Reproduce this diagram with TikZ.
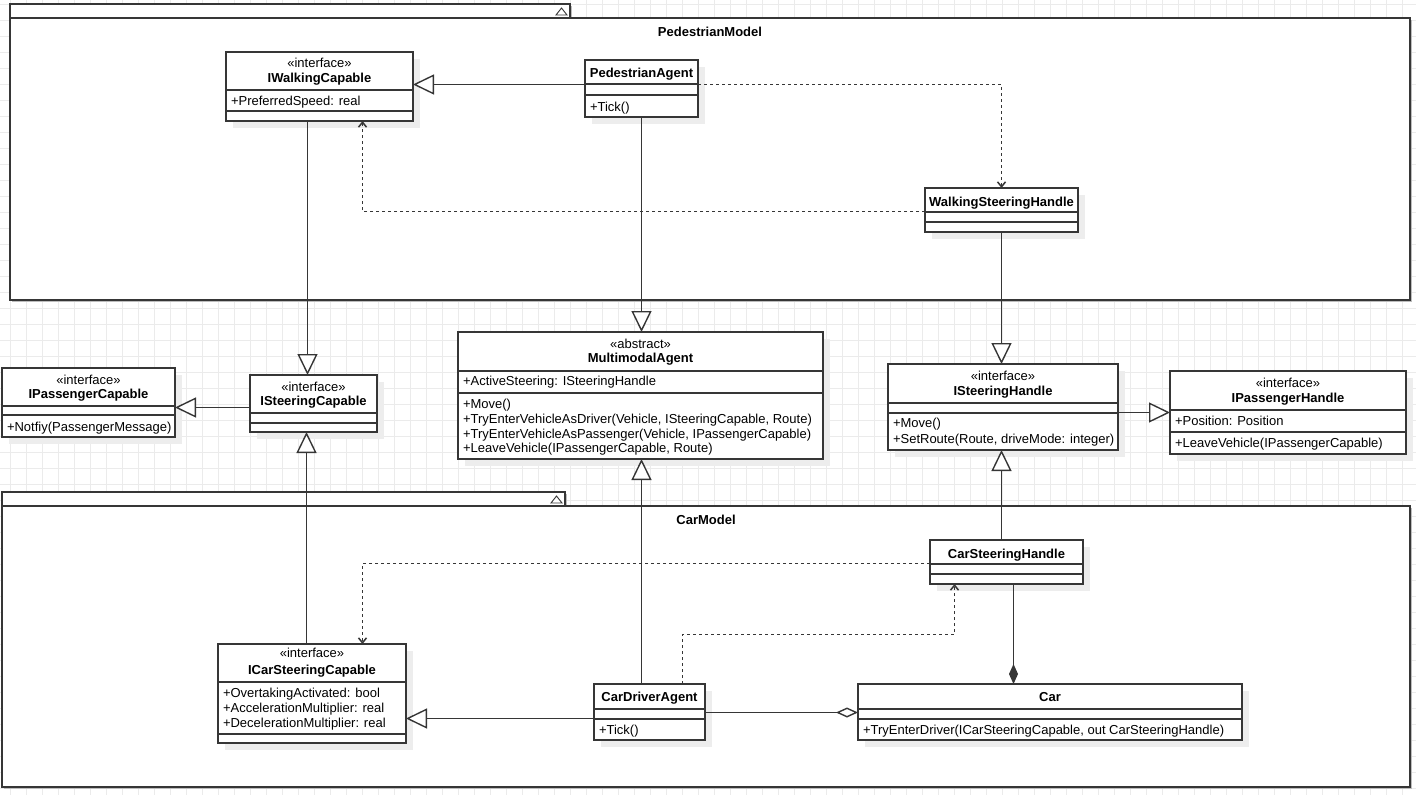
\documentclass[tikz,border=0pt]{standalone}
\usepackage{fontspec}
\setmainfont{Liberation Sans}
\usetikzlibrary{arrows.meta,shadows}
\definecolor{ln}{HTML}{363636}
\definecolor{gridc}{HTML}{EBEBEB}
\definecolor{shad}{HTML}{EDEDED}
\definecolor{fshad}{HTML}{BDBDBD}
\tikzset{
  txt/.style={font=\fontsize{13}{15}\selectfont, inner sep=0pt, outer sep=0pt, text=black},
  lefttxt/.style={txt, anchor=base west},
  midtxt/.style={txt, anchor=base},
  nametxt/.style={txt, anchor=base, font=\fontsize{13}{15}\selectfont\bfseries},
  classbox/.style={draw=ln, line width=1.3pt, fill=white, anchor=north west, inner sep=0pt, outer sep=0pt,
    drop shadow={shadow xshift=7pt, shadow yshift=-7pt, fill=shad, opacity=1}},
  framebox/.style={draw=ln, line width=1.5pt, fill=white, anchor=north west, inner sep=0pt, outer sep=0pt,
    drop shadow={shadow xshift=2pt, shadow yshift=-2pt, fill=fshad, opacity=1}},
  divline/.style={draw=ln, line width=1.3pt},
  gen/.style={draw=ln, line width=1.4pt, -{Triangle[length=21pt,width=20pt,fill=white]}},
  dep/.style={draw=ln, line width=1.5pt, dash pattern=on 3pt off 3pt, -{Straight Barb[length=5pt,width=8pt]}},
  agg/.style={draw=ln, line width=1.4pt, -{Diamond[length=22pt,width=10pt,fill=white]}},
  comp/.style={draw=ln, line width=1.4pt, -{Diamond[length=20pt,width=9pt,fill=ln]}},
}
\newcommand\ubox[6][classbox]{\node[#1, minimum width={(#5-#3)*1pt}, minimum height={(#6-#4)*1pt}] (#2) at (#3,#4) {};}
\newcommand\udiv[2]{\draw[divline] (#1.west |- 0,#2) -- (#1.east |- 0,#2);}
\begin{document}
\begin{tikzpicture}[x=1pt,y=-1pt]
\useasboundingbox (0,0) rectangle (1416,795);
\fill[white] (0,0) rectangle (1416,795);
% grid
\foreach \gx in {-5.3,10.7,...,1420} \draw[gridc, line width=0.8pt] (\gx,0) -- (\gx,795);
\foreach \gy in {4,20,...,800} \draw[gridc, line width=0.8pt] (0,\gy) -- (1416,\gy);

% ---------- package frames ----------
\ubox[framebox]{pedtab}{10}{4}{570}{18}
\ubox[framebox]{pedframe}{10}{18}{1410}{300}
\draw[ln, line width=0.9pt] (556,15) -- (561.5,8) -- (567,15) -- cycle;
\node[nametxt] (pedtitle) at (710,36) {PedestrianModel};

\ubox[framebox]{cartab}{2}{492}{565}{506}
\ubox[framebox]{carframe}{2}{506}{1410}{787}
\draw[ln, line width=0.9pt] (551,503) -- (556.5,496) -- (562,503) -- cycle;
\node[nametxt] (cartitle) at (706,524) {CarModel};

% ---------- classes ----------
% IWalkingCapable
\ubox{iwc}{226}{52}{413}{121}
\udiv{iwc}{90}\udiv{iwc}{111}
\node[midtxt] (iwc-s) at (319.5,67) {«interface»};
\node[nametxt] (iwc-n) at (319.5,82) {IWalkingCapable};
\node[lefttxt] (iwc-a) at (231,105) {+PreferredSpeed: real};

% PedestrianAgent
\ubox{pa}{585}{60}{698}{117}
\udiv{pa}{84}\udiv{pa}{95}
\node[nametxt] (pa-n) at (641.5,77.5) {PedestrianAgent};
\node[lefttxt] (pa-o) at (590,111) {+Tick()};

% WalkingSteeringHandle
\ubox{wsh}{925}{188}{1078}{232}
\udiv{wsh}{212}\udiv{wsh}{222}
\node[nametxt] (wsh-n) at (1001.5,206) {WalkingSteeringHandle};

% IPassengerCapable
\ubox{ipc}{2}{368}{175}{437}
\udiv{ipc}{406}\udiv{ipc}{415}
\node[midtxt] (ipc-s) at (88.5,384) {«interface»};
\node[nametxt] (ipc-n) at (88.5,398) {IPassengerCapable};
\node[lefttxt] (ipc-o) at (7,431) {+Notfiy(PassengerMessage)};

% ISteeringCapable
\ubox{isc}{250}{375}{377}{432}
\udiv{isc}{413}\udiv{isc}{423}
\node[midtxt] (isc-s) at (313.5,391) {«interface»};
\node[nametxt] (isc-n) at (313.5,405) {ISteeringCapable};

% MultimodalAgent
\ubox{ma}{458}{332}{823}{459}
\udiv{ma}{371}\udiv{ma}{393}
\node[midtxt] (ma-s) at (640.5,348) {«abstract»};
\node[nametxt] (ma-n) at (640.5,362) {MultimodalAgent};
\node[lefttxt] (ma-a) at (463,385.5) {+ActiveSteering: ISteeringHandle};
\node[lefttxt] (ma-o1) at (463,408) {+Move()};
\node[lefttxt] (ma-o2) at (463,423) {+TryEnterVehicleAsDriver(Vehicle, ISteeringCapable, Route)};
\node[lefttxt] (ma-o3) at (463,438) {+TryEnterVehicleAsPassenger(Vehicle, IPassengerCapable)};
\node[lefttxt] (ma-o4) at (463,452.5) {+LeaveVehicle(IPassengerCapable, Route)};

% ISteeringHandle
\ubox{ish}{888}{364}{1118}{450}
\udiv{ish}{403}\udiv{ish}{413}
\node[midtxt] (ish-s) at (1003,380) {«interface»};
\node[nametxt] (ish-n) at (1003,395.5) {ISteeringHandle};
\node[lefttxt] (ish-o1) at (893,427.5) {+Move()};
\node[lefttxt] (ish-o2) at (893,443) {+SetRoute(Route, driveMode: integer)};

% IPassengerHandle
\ubox{iph}{1170}{371}{1406}{454}
\udiv{iph}{410}\udiv{iph}{432}
\node[midtxt] (iph-s) at (1288,387) {«interface»};
\node[nametxt] (iph-n) at (1288,402.5) {IPassengerHandle};
\node[lefttxt] (iph-a) at (1175,425) {+Position: Position};
\node[lefttxt] (iph-o) at (1175,447.5) {+LeaveVehicle(IPassengerCapable)};

% CarSteeringHandle
\ubox{csh}{930}{540}{1083}{584}
\udiv{csh}{564}\udiv{csh}{574}
\node[nametxt] (csh-n) at (1006.5,558) {CarSteeringHandle};

% ICarSteeringCapable
\ubox{icsc}{218}{644}{406}{743}
\udiv{icsc}{682}\udiv{icsc}{734}
\node[midtxt] (icsc-s) at (312,657) {«interface»};
\node[nametxt] (icsc-n) at (312,674.5) {ICarSteeringCapable};
\node[lefttxt] (icsc-a1) at (223,697) {+OvertakingActivated: bool};
\node[lefttxt] (icsc-a2) at (223,712.5) {+AccelerationMultiplier: real};
\node[lefttxt] (icsc-a3) at (223,727) {+DecelerationMultiplier: real};

% CarDriverAgent
\ubox{cda}{594}{684}{705}{740}
\udiv{cda}{709}\udiv{cda}{719}
\node[nametxt] (cda-n) at (649.5,701) {CarDriverAgent};
\node[lefttxt] (cda-o) at (599,734.5) {+Tick()};

% Car
\ubox{car}{858}{684}{1242}{740}
\udiv{car}{709}\udiv{car}{719}
\node[nametxt] (car-n) at (1050,701) {Car};
\node[lefttxt] (car-o) at (863,734) {+TryEnterDriver(ICarSteeringCapable, out CarSteeringHandle)};

% ---------- connectors ----------
\draw[gen] ([yshift=-24.5pt]pa.north west) -- ([yshift=-32.5pt]iwc.north east);
\draw[dep] ([yshift=-24.5pt]pa.north east) -| ([xshift=76.5pt]wsh.north west);
\draw[dep] ([yshift=-23.5pt]wsh.north west) -| ([xshift=136.5pt]iwc.south west);
\draw[gen] ([xshift=81.5pt]iwc.south west) -- ([xshift=57.5pt]isc.north west);
\draw[gen] ([xshift=56.5pt]pa.south west) -- ([xshift=183.5pt]ma.north west);
\draw[gen] ([xshift=76.5pt]wsh.south west) -- ([xshift=113.5pt]ish.north west);
\draw[gen] ([yshift=-32.5pt]isc.north west) -- ([yshift=-39.5pt]ipc.north east);
\draw[gen] ([yshift=-48.5pt]ish.north east) -- ([yshift=-41.5pt]iph.north west);
\draw[gen] ([xshift=88.5pt]icsc.north west) -- ([xshift=56.5pt]isc.south west);
\draw[gen] ([xshift=47.5pt]cda.north west) -- ([xshift=183.5pt]ma.south west);
\draw[gen] ([xshift=71.5pt]csh.north west) -- ([xshift=113.5pt]ish.south west);
\draw[dep] ([yshift=-23.5pt]csh.north west) -| ([xshift=144.5pt]icsc.north west);
\draw[dep] ([xshift=88.5pt]cda.north west) -- ++(0,-49.5) -| ([xshift=24.5pt]csh.south west);
\draw[gen] ([yshift=-34.5pt]cda.north west) -- ([yshift=-74.5pt]icsc.north east);
\draw[agg] ([yshift=-28.5pt]cda.north east) -- ([yshift=-28.5pt]car.north west);
\draw[comp] ([xshift=83.5pt]csh.south west) -- ([xshift=155.5pt]car.north west);
\end{tikzpicture}
\end{document}
